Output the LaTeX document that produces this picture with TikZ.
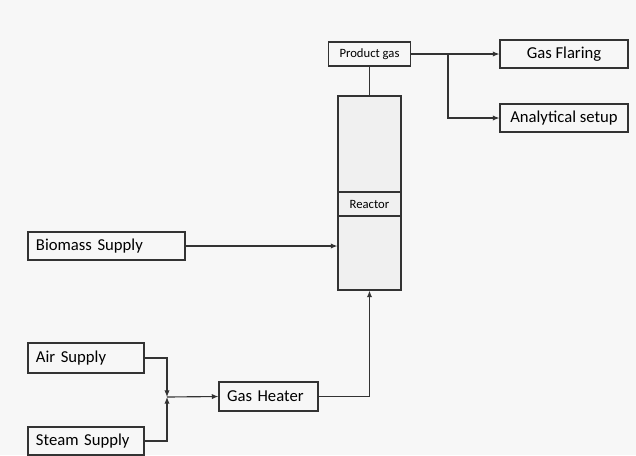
\documentclass[tikz,border=0pt]{standalone}
\usepackage{fontspec}
\setmainfont{Carlito}
\usetikzlibrary{arrows.meta}

\begin{document}
\begin{tikzpicture}[
    x=0.75pt, y=-0.75pt,
    line width=0.85pt,
    every node/.style={font=\fontsize{12.5}{14}\selectfont},
    box/.style={draw=black!80, inner sep=0pt},
    supply/.style={box, align=left, inner xsep=6pt},
    small/.style={font=\fontsize{9.5}{11}\selectfont},
    flow/.style={draw=black!80, -{Latex[length=5pt,width=4pt]}},
    pipe/.style={draw=black!80},
    ]
    \fill[black!3] (0,0) rectangle (636,455);
    \useasboundingbox (0,0) rectangle (636,455);

    % reactor column
    \node [box, fill=black!6, minimum width=47.25pt, minimum height=145.5pt] (reactor) at (369.5,193) {};
    \node [box, small, minimum width=47.25pt, minimum height=18pt] (reactlabel) at (369.5,204) {Reactor};
    \node [box, small, minimum width=61.5pt, minimum height=18pt] (pgas) at (369.5,54) {Product gas};

    % outlets
    \node [box, minimum width=96pt, minimum height=21pt] (flaring) at (564,54) {Gas Flaring};
    \node [box, minimum width=96pt, minimum height=21pt] (analysis) at (564,118) {Analytical setup};
    \coordinate (branch) at (448,54);

    % feeds
    \node [supply, text width=105.75pt, minimum height=21pt] (biomass) at (106.5,246) {Biomass Supply};
    \node [supply, text width=75pt, minimum height=22.5pt] (air) at (86,358) {Air Supply};
    \node [supply, text width=75pt, minimum height=21pt] (steam) at (86,441) {Steam Supply};
    \node [supply, text width=62.25pt, minimum height=21.75pt] (heater) at (268.5,396.5) {Gas Heater};
    \coordinate (mix) at (167,397);

    \draw [pipe] (pgas.south) -- (reactor.north);
    \draw [flow] (pgas.east) -- (flaring.west);
    \draw [flow] (branch) |- (analysis.west);
    \draw [flow] (biomass.east) -- (biomass.east -| reactor.west);
    \draw [flow] (air.east) -| (mix);
    \draw [flow] (steam.east) -| (mix);
    \draw [flow] (mix) -- (heater.west);
    \draw [flow] (heater.east) -| (reactor.south);
\end{tikzpicture}
\end{document}
